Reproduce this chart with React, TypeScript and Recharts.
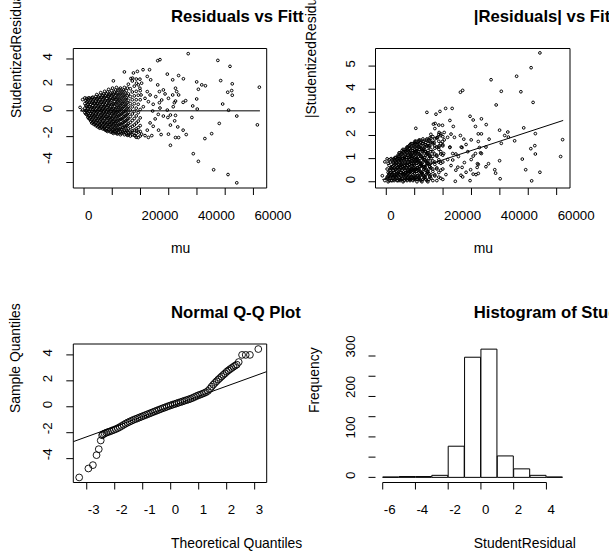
import {
  Bar,
  ComposedChart,
  Line,
  ReferenceArea,
  ReferenceLine,
  Scatter,
  XAxis,
  YAxis,
} from 'recharts';

const FONT = '"Liberation Sans", Arial, Helvetica, sans-serif';
const TICK_TEXT = 13.3;
const LABEL_TEXT = 13.9;

// fitted mean (thousands) -> studentized residuals, dense part of the cloud read column by column
const CLOUD_COLUMNS: [number, number[]][] = [
  [-1.4, [0.26]],
  [-0.5, [0.86, 0.05]],
  [0.3, [0.99, 0.55, 0.2, -0.15]],
  [1.0, [0.95, 0.7, 0.35, 0.05, -0.3]],
  [1.7, [1.0, 0.6, 0.3, -0.05, -0.4, -0.6]],
  [2.4, [0.85, 0.5, 0.15, -0.2, -0.5, -0.8]],
  [3.1, [1.05, 0.75, 0.4, 0.1, -0.25, -0.55, -0.9]],
  [3.8, [0.95, 0.6, 0.3, -0.05, -0.35, -0.7, -1.0]],
  [4.5, [1.25, 0.9, 0.55, 0.2, -0.1, -0.45, -0.75, -1.1]],
  [5.2, [1.05, 0.75, 0.4, 0.1, -0.25, -0.6, -0.9, -1.2]],
  [5.9, [1.4, 1.0, 0.65, 0.3, 0.0, -0.35, -0.65, -1.0, -1.3]],
  [6.6, [1.2, 0.85, 0.5, 0.15, -0.2, -0.5, -0.8, -1.1, -1.4]],
  [7.3, [1.5, 1.05, 0.7, 0.35, 0.05, -0.3, -0.6, -0.95, -1.25, -1.45]],
  [8.0, [1.3, 0.95, 0.6, 0.25, -0.1, -0.45, -0.75, -1.05, -1.35, -1.55]],
  [8.7, [1.65, 1.15, 0.8, 0.45, 0.1, -0.2, -0.55, -0.9, -1.2, -1.5]],
  [9.4, [1.35, 1.0, 0.65, 0.3, -0.05, -0.4, -0.7, -1.05, -1.35, -1.65]],
  [10.1, [1.75, 1.25, 0.9, 0.5, 0.15, -0.2, -0.55, -0.85, -1.2, -1.5, -1.7]],
  [10.8, [1.45, 1.05, 0.7, 0.35, 0.0, -0.35, -0.7, -1.0, -1.35, -1.6]],
  [11.5, [1.8, 1.3, 0.9, 0.55, 0.2, -0.15, -0.5, -0.85, -1.2, -1.5, -1.75]],
  [12.2, [1.55, 1.1, 0.7, 0.3, -0.05, -0.4, -0.75, -1.1, -1.45, -1.7]],
  [12.9, [1.75, 1.3, 0.85, 0.45, 0.1, -0.3, -0.65, -1.0, -1.35, -1.65, -1.85]],
  [13.6, [1.5, 1.05, 0.6, 0.2, -0.2, -0.6, -0.95, -1.3, -1.6]],
  [14.3, [1.8, 1.25, 0.8, 0.35, -0.05, -0.45, -0.85, -1.2, -1.55, -1.85]],
  [15.0, [1.55, 1.0, 0.55, 0.1, -0.35, -0.75, -1.15, -1.5, -1.8]],
  [15.7, [2.05, 1.3, 0.8, 0.3, -0.15, -0.6, -1.0, -1.4, -1.7]],
  [16.4, [1.7, 1.1, 0.55, 0.05, -0.45, -0.9, -1.3, -1.65, -1.95]],
  [17.1, [2.3, 1.45, 0.85, 0.3, -0.25, -0.75, -1.2, -1.55, -1.85]],
  [17.8, [1.9, 1.15, 0.55, -0.05, -0.6, -1.1, -1.5, -1.9]],
  [18.5, [2.45, 1.5, 0.85, 0.2, -0.4, -0.95, -1.4, -1.75, -2.05]],
  [19.2, [2.0, 1.2, 0.5, -0.15, -0.8, -1.3, -1.65]],
  [19.9, [1.55, 0.85, 0.1, -0.55, -1.15, -1.6, -1.95]],
];

// more points between those columns, where the cloud is solid black
const CLOUD_COLUMNS_FILL: [number, number[]][] = [
  [0.65, [0.8, 0.4, 0.0, -0.25]],
  [1.35, [0.85, 0.5, 0.15, -0.2, -0.5]],
  [2.05, [0.95, 0.65, 0.3, -0.05, -0.35, -0.65]],
  [2.75, [1.0, 0.6, 0.25, -0.05, -0.4, -0.7, -0.95]],
  [3.45, [0.85, 0.55, 0.2, -0.15, -0.45, -0.8, -1.05]],
  [4.15, [1.1, 0.75, 0.4, 0.05, -0.25, -0.6, -0.9, -1.15]],
  [4.85, [0.95, 0.6, 0.3, -0.05, -0.4, -0.7, -1.0, -1.25]],
  [5.55, [1.2, 0.85, 0.5, 0.15, -0.15, -0.5, -0.8, -1.1, -1.35]],
  [6.25, [1.05, 0.7, 0.35, 0.05, -0.3, -0.6, -0.95, -1.25]],
  [6.95, [1.3, 0.95, 0.6, 0.25, -0.1, -0.4, -0.75, -1.05, -1.35]],
  [7.65, [1.15, 0.8, 0.45, 0.15, -0.2, -0.5, -0.85, -1.15, -1.5]],
  [8.35, [1.45, 1.1, 0.75, 0.4, 0.05, -0.3, -0.6, -0.95, -1.25, -1.6]],
  [9.05, [1.25, 0.9, 0.55, 0.2, -0.15, -0.5, -0.8, -1.1, -1.45]],
  [9.75, [1.55, 1.15, 0.8, 0.45, 0.1, -0.25, -0.6, -0.95, -1.3, -1.6]],
  [10.45, [1.3, 0.95, 0.55, 0.2, -0.1, -0.45, -0.8, -1.1, -1.45, -1.75]],
  [11.15, [1.6, 1.2, 0.85, 0.5, 0.1, -0.25, -0.6, -0.95, -1.3, -1.65]],
  [11.85, [1.4, 1.0, 0.65, 0.25, -0.1, -0.45, -0.8, -1.15, -1.5, -1.8]],
  [12.55, [1.65, 1.2, 0.8, 0.4, 0.0, -0.35, -0.7, -1.05, -1.4]],
  [13.25, [1.4, 0.95, 0.55, 0.15, -0.25, -0.65, -1.05, -1.45, -1.75]],
  [13.95, [1.6, 1.15, 0.7, 0.3, -0.1, -0.5, -0.9, -1.3, -1.7]],
  [14.65, [1.35, 0.9, 0.45, 0.0, -0.4, -0.8, -1.25, -1.65]],
  [15.35, [1.75, 1.15, 0.65, 0.2, -0.25, -0.65, -1.1, -1.55, -1.9]],
];

// the sparser points, [mu (thousands), residual]
const SPARSE_POINTS: [number, number][] = [
  [36.9, 4.41], [26.9, 3.95], [26.1, 3.87], [47.4, 3.89], [51.7, 3.43], [62.1, 1.82],
  [61.4, -1.09], [54.1, -5.57], [51.0, -4.93], [45.9, -4.56], [40.5, -3.91], [38.7, -3.32],
  [42.8, -2.15], [45.2, -1.77], [47.9, -0.98], [54.1, -0.41], [51.2, 0.04], [49.1, 0.52],
  [52.5, 1.2], [52.3, 1.56], [50.9, 1.43], [52.5, 2.08], [48.4, 2.33], [39.9, 2.23],
  [41.7, 2.0], [43.0, 1.93], [40.5, 1.66], [39.9, 0.91], [40.1, 0.13], [38.5, 0.37],
  [38.2, -0.52], [36.0, 0.78], [35.1, 0.65], [35.2, 2.47], [33.5, 2.72], [29.5, 2.83],
  [31.4, 2.39], [26.1, 2.0], [23.6, 2.39], [20.9, 3.17], [23.2, 3.17], [18.9, 3.04],
  [14.3, 3.0], [10.4, 2.31], [17.5, 2.92], [16.6, 2.49], [33.2, -1.25], [35.1, -1.5],
  [36.2, -1.84], [33.5, -2.07], [30.6, -2.67], [32.4, -2.07], [29.9, -1.81], [27.3, -1.84],
  [26.4, -1.5], [30.6, -1.11], [32.1, -0.78], [29.7, -0.52], [30.6, -0.33], [32.4, -0.36],
  [29.5, 0.05], [31.6, 0.31], [32.0, 0.62], [32.4, 0.75], [29.9, 0.96], [32.8, 1.48],
  [32.4, 1.74], [31.4, 1.22], [33.5, 1.22], [28.7, 1.3], [27.5, 0.83], [26.7, 0.62],
  [25.4, 1.09], [26.7, 1.48], [28.1, 1.61], [24.5, 0.5], [24.3, -0.02], [26.9, 0.21],
  [26.3, -0.28], [28.1, -0.41], [25.2, -0.63], [23.4, -0.94], [24.5, -1.2], [22.4, -1.5],
  [21.6, -1.92], [24.0, -1.92], [22.8, -2.06], [20.4, -1.81], [19.2, -2.07], [18.1, -1.93],
  [18.6, -1.55], [16.9, -1.69], [15.7, -1.87], [22.4, 1.48], [21.6, 0.96], [22.8, 0.7],
  [21.0, 0.31], [23.4, 1.22], [20.2, 1.22], [19.8, 1.74], [18.6, 2.13], [19.8, 2.44],
  [17.2, 2.52], [20.4, 2.13], [22.4, 2.65],
];

const ZERO_LINE_MU = [-1400, 62300];
const ZERO_LINE_RESID = [0, 0];
const ABS_FIT_MU = [-1400, 62300];
const ABS_FIT_RESID = [0.09, 2.65];

const MU_TICKS = [0, 10000, 20000, 30000, 40000, 50000, 60000];
const MU_LABELS = [0, 20000, 40000, 60000];
const RESID_TICKS = [-4, -2, 0, 2, 4];
const ABS_TICKS = [0, 1, 2, 3, 4, 5];

// normal Q-Q plot
const QQ_THEORETICAL = [
  -3.27, -2.94, -2.78, -2.65, -2.57, -2.5, -2.45,
  -2.42, -2.36, -2.3, -2.24, -2.17, -2.1, -2.03, -1.96, -1.89, -1.82, -1.75, -1.68, -1.61,
  -1.54, -1.47, -1.4, -1.33, -1.26, -1.19, -1.12, -1.05, -0.98, -0.91, -0.84, -0.77, -0.7,
  -0.63, -0.56, -0.49, -0.42, -0.35, -0.28, -0.21, -0.14, -0.07, 0.0, 0.07, 0.14, 0.21,
  0.28, 0.35, 0.42, 0.49, 0.56, 0.63, 0.7, 0.77, 0.84, 0.91, 0.98, 1.05, 1.12, 1.19, 1.26,
  1.33, 1.4, 1.46, 1.52, 1.58, 1.64, 1.7, 1.76, 1.82, 1.88, 1.94, 2.0, 2.06, 2.12, 2.18,
  2.24, 2.3, 2.36, 2.43, 2.55, 2.68, 2.83, 3.13,
];
const QQ_SAMPLE = [
  -5.45, -4.76, -4.5, -3.73, -3.27, -2.6, -2.2,
  -2.12, -2.06, -2.0, -1.95, -1.9, -1.84, -1.78, -1.72, -1.65, -1.57, -1.48, -1.39, -1.3,
  -1.22, -1.15, -1.08, -1.01, -0.95, -0.89, -0.83, -0.77, -0.71, -0.65, -0.59, -0.53, -0.47,
  -0.41, -0.35, -0.29, -0.23, -0.17, -0.11, -0.06, 0.0, 0.06, 0.11, 0.16, 0.21, 0.26,
  0.31, 0.36, 0.41, 0.46, 0.51, 0.56, 0.61, 0.67, 0.74, 0.81, 0.88, 0.93, 0.99, 1.05, 1.12,
  1.22, 1.38, 1.55, 1.7, 1.84, 1.97, 2.1, 2.22, 2.34, 2.46, 2.57, 2.7, 2.8, 2.9, 2.99,
  3.08, 3.17, 3.25, 3.45, 4.0, 4.0, 4.0, 4.45,
];
const QQ_LINE_T = [-3.48, 3.43];
const QQ_LINE_S = [-2.69, 2.71];
const QQ_X_TICKS = [-3, -2, -1, 0, 1, 2, 3];
const QQ_Y_TICKS = [-4, -2, 0, 2, 4];

// histogram, bins of width 1 centred on these mids
const HIST_MIDS = [-5.5, -4.5, -3.5, -2.5, -1.5, -0.5, 0.5, 1.5, 2.5, 3.5, 4.5];
const HIST_COUNTS = [1, 2, 2, 5, 77, 297, 317, 53, 21, 5, 1];
const HIST_X_TICKS = [-6, -4, -2, 0, 2, 4];
const HIST_Y_TICKS = [0, 50, 100, 150, 200, 250, 300];
const HIST_Y_LABELS = [0, 100, 200, 300];

const MU_DOMAIN: [number, number] = [-3800, 64700];
const RESID_DOMAIN: [number, number] = [-5.97, 4.81];
const ABS_DOMAIN: [number, number] = [-0.27, 5.76];
const QQ_X_DOMAIN: [number, number] = [-3.48, 3.43];
const QQ_Y_DOMAIN: [number, number] = [-5.84, 4.84];
const HIST_X_DOMAIN: [number, number] = [-6.44, 5.44];
const HIST_Y_DOMAIN: [number, number] = [-12.7, 329.7];

const toPoints = (cols: [number, number[]][]) =>
  cols.flatMap(([mu, rs]) => rs.map((r) => ({ x: mu * 1000, y: r })));

const residData = [
  ...toPoints(CLOUD_COLUMNS),
  ...toPoints(CLOUD_COLUMNS_FILL),
  ...SPARSE_POINTS.map(([mu, r]) => ({ x: mu * 1000, y: r })),
];
const absData = residData.map((d) => ({ x: d.x, y: Math.abs(d.y) }));
const zeroLine = ZERO_LINE_MU.map((x, i) => ({ x, y: ZERO_LINE_RESID[i] }));
const absFit = ABS_FIT_MU.map((x, i) => ({ x, y: ABS_FIT_RESID[i] }));
const qqData = QQ_THEORETICAL.map((x, i) => ({ x, y: QQ_SAMPLE[i] }));
const qqLine = QQ_LINE_T.map((x, i) => ({ x, y: QQ_LINE_S[i] }));
const histData = HIST_MIDS.map((mid, i) => ({ mid, count: HIST_COUNTS[i] }));
// axis lines of the histogram only run between the outer ticks
const histXAxisLine = [HIST_X_TICKS[0], HIST_X_TICKS[HIST_X_TICKS.length - 1]];
const histYAxisLine = [HIST_Y_TICKS[0], HIST_Y_TICKS[HIST_Y_TICKS.length - 1]];

const smallRing = (p: any) => (
  <circle cx={p.cx} cy={p.cy} r={1.35} fill="none" stroke="#000" strokeWidth={1} />
);
const bigRing = (p: any) => (
  <circle cx={p.cx} cy={p.cy} r={3.4} fill="none" stroke="#000" strokeWidth={0.9} />
);

// R draws the tick labels starting at the tick
function XTick({ x, y, payload, labels }: any) {
  if (labels && !labels.includes(payload.value)) return <g />;
  return (
    <text x={x + 1} y={y + 24.5} fontFamily={FONT} fontSize={TICK_TEXT} fill="#000" textAnchor="start">
      {payload.value}
    </text>
  );
}

function YTick({ x, y, payload, labels }: any) {
  if (labels && !labels.includes(payload.value)) return <g />;
  const bx = x - 13.8;
  const by = y + 1.5;
  return (
    <text
      x={bx}
      y={by}
      transform={`rotate(-90 ${bx} ${by})`}
      fontFamily={FONT}
      fontSize={TICK_TEXT}
      fill="#000"
      textAnchor="start"
    >
      {payload.value}
    </text>
  );
}

function Texts({ cx, title, titleY, xTitle, xTitleY, yTitle, yx, yy }: any) {
  return (
    <>
      <text x={cx} y={titleY} fontFamily={FONT} fontSize={16.7} fontWeight="bold" fill="#000">
        {title}
      </text>
      <text x={cx} y={xTitleY} fontFamily={FONT} fontSize={LABEL_TEXT} fill="#000">
        {xTitle}
      </text>
      <text
        x={yx}
        y={yy}
        transform={`rotate(-90 ${yx} ${yy})`}
        fontFamily={FONT}
        fontSize={LABEL_TEXT}
        fill="#000"
      >
        {yTitle}
      </text>
    </>
  );
}

function Panel({ left, top, width, children, texts }: any) {
  return (
    <div style={{ position: 'absolute', left, top, width, height: 278, overflow: 'hidden' }}>
      {children}
      <svg
        width={width}
        height={278}
        style={{ position: 'absolute', left: 0, top: 0, pointerEvents: 'none' }}
      >
        {texts}
      </svg>
    </div>
  );
}

const axisCommon = {
  allowDataOverflow: true,
  interval: 0 as const,
  tickSize: 7,
  tickMargin: 0,
  axisLine: false,
  stroke: '#000',
};

export default function App() {
  return (
    <div style={{ position: 'absolute', left: 0, top: 0, width: 609, height: 556, background: '#fff' }}>
      <Panel
        left={0}
        top={0}
        width={304}
        texts={
          <Texts
            cx={171}
            title="Residuals vs Fitted"
            titleY={21.7}
            xTitle="mu"
            xTitleY={253}
            yTitle="StudentizedResidual"
            yx={21}
            yy={118}
          />
        }
      >
        <ComposedChart width={304} height={278} margin={{ top: 48.5, right: 37.3, bottom: 89, left: 72.3 }}>
          <XAxis
            {...axisCommon}
            type="number"
            dataKey="x"
            domain={MU_DOMAIN}
            ticks={MU_TICKS}
            height={1}
            tick={(p: any) => <XTick {...p} labels={MU_LABELS} />}
          />
          <YAxis
            {...axisCommon}
            type="number"
            dataKey="y"
            domain={RESID_DOMAIN}
            ticks={RESID_TICKS}
            width={1}
            tick={(p: any) => <YTick {...p} />}
          />
          <ReferenceArea
            x1={MU_DOMAIN[0]}
            x2={MU_DOMAIN[1]}
            y1={RESID_DOMAIN[0]}
            y2={RESID_DOMAIN[1]}
            fill="none"
            stroke="#000"
            ifOverflow="visible"
          />
          <Scatter data={residData} shape={smallRing} isAnimationActive={false} />
          <Line data={zeroLine} dataKey="y" stroke="#555" strokeWidth={1.6} dot={false} isAnimationActive={false} />
        </ComposedChart>
      </Panel>

      <Panel
        left={304}
        top={0}
        width={305}
        texts={
          <Texts
            cx={169.8}
            title="|Residuals| vs Fitted"
            titleY={21.7}
            xTitle="mu"
            xTitleY={253}
            yTitle="|StudentizedResidual|"
            yx={11.5}
            yy={118}
          />
        }
      >
        <ComposedChart width={305} height={278} margin={{ top: 48.5, right: 39, bottom: 89, left: 70.5 }}>
          <XAxis
            {...axisCommon}
            type="number"
            dataKey="x"
            domain={MU_DOMAIN}
            ticks={MU_TICKS}
            height={1}
            tick={(p: any) => <XTick {...p} labels={MU_LABELS} />}
          />
          <YAxis
            {...axisCommon}
            type="number"
            dataKey="y"
            domain={ABS_DOMAIN}
            ticks={ABS_TICKS}
            width={1}
            tick={(p: any) => <YTick {...p} />}
          />
          <ReferenceArea
            x1={MU_DOMAIN[0]}
            x2={MU_DOMAIN[1]}
            y1={ABS_DOMAIN[0]}
            y2={ABS_DOMAIN[1]}
            fill="none"
            stroke="#000"
            ifOverflow="visible"
          />
          <Scatter data={absData} shape={smallRing} isAnimationActive={false} />
          <Line data={absFit} dataKey="y" stroke="#000" strokeWidth={1} dot={false} isAnimationActive={false} />
        </ComposedChart>
      </Panel>

      <Panel
        left={0}
        top={278}
        width={304}
        texts={
          <Texts
            cx={171}
            title="Normal Q-Q Plot"
            titleY={39.7}
            xTitle="Theoretical Quantiles"
            xTitleY={270}
            yTitle="Sample Quantiles"
            yx={19.5}
            yy={135}
          />
        }
      >
        <ComposedChart width={304} height={278} margin={{ top: 66, right: 37.3, bottom: 72.5, left: 72.3 }}>
          <XAxis
            {...axisCommon}
            type="number"
            dataKey="x"
            domain={QQ_X_DOMAIN}
            ticks={QQ_X_TICKS}
            height={1}
            tick={(p: any) => <XTick {...p} />}
          />
          <YAxis
            {...axisCommon}
            type="number"
            dataKey="y"
            domain={QQ_Y_DOMAIN}
            ticks={QQ_Y_TICKS}
            width={1}
            tick={(p: any) => <YTick {...p} />}
          />
          <ReferenceArea
            x1={QQ_X_DOMAIN[0]}
            x2={QQ_X_DOMAIN[1]}
            y1={QQ_Y_DOMAIN[0]}
            y2={QQ_Y_DOMAIN[1]}
            fill="none"
            stroke="#000"
            ifOverflow="visible"
          />
          <Scatter data={qqData} shape={bigRing} isAnimationActive={false} />
          <Line data={qqLine} dataKey="y" stroke="#000" strokeWidth={1} dot={false} isAnimationActive={false} />
        </ComposedChart>
      </Panel>

      <Panel
        left={304}
        top={278}
        width={305}
        texts={
          <Texts
            cx={169.8}
            title="Histogram of StudentResidual"
            titleY={39.7}
            xTitle="StudentResidual"
            xTitleY={270}
            yTitle="Frequency"
            yx={15}
            yy={135}
          />
        }
      >
        <ComposedChart
          width={305}
          height={278}
          data={histData}
          barCategoryGap={0}
          barGap={0}
          margin={{ top: 66, right: 39, bottom: 72.5, left: 70.5 }}
        >
          <XAxis
            {...axisCommon}
            type="number"
            dataKey="mid"
            domain={HIST_X_DOMAIN}
            ticks={HIST_X_TICKS}
            height={1}
            tick={(p: any) => <XTick {...p} />}
          />
          <YAxis
            {...axisCommon}
            type="number"
            domain={HIST_Y_DOMAIN}
            ticks={HIST_Y_TICKS}
            width={1}
            tick={(p: any) => <YTick {...p} labels={HIST_Y_LABELS} />}
          />
          <Bar dataKey="count" fill="#fff" stroke="#000" strokeWidth={1} isAnimationActive={false} />
          <ReferenceLine
            key="hist-x-axis"
            segment={[
              { x: histXAxisLine[0], y: HIST_Y_DOMAIN[0] },
              { x: histXAxisLine[1], y: HIST_Y_DOMAIN[0] },
            ]}
            stroke="#000"
            ifOverflow="visible"
          />
          <ReferenceArea
            key="hist-y-axis"
            x1={HIST_X_DOMAIN[0]}
            x2={HIST_X_DOMAIN[0]}
            y1={histYAxisLine[0]}
            y2={histYAxisLine[1]}
            fill="none"
            stroke="#000"
            strokeWidth={1}
            ifOverflow="visible"
          />
        </ComposedChart>
      </Panel>
    </div>
  );
}
